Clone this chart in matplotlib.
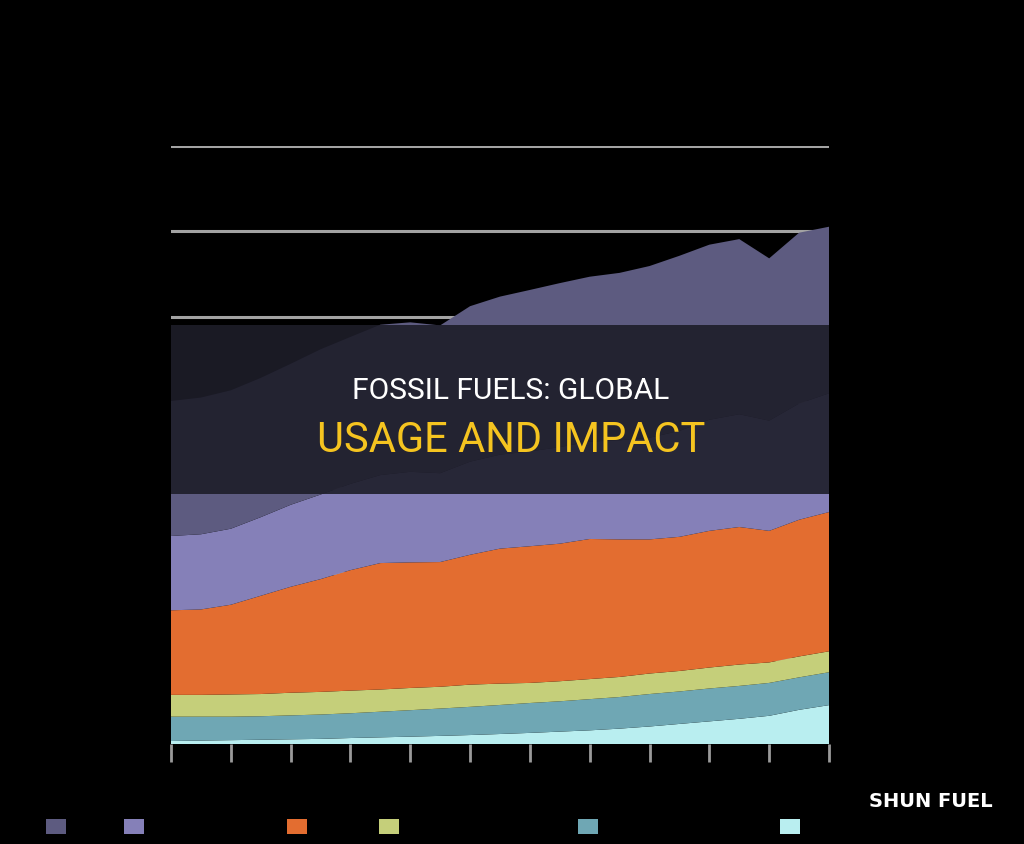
import numpy as np
import matplotlib
matplotlib.use("Agg")
import matplotlib.pyplot as plt
from matplotlib.patches import Patch, Rectangle

# %%
## data (exajoules per year)
years = list(range(2000, 2023))
renewables = [3.5, 4, 4.5, 5, 5.5, 6, 7, 7.8, 8.6, 9.5, 10.5, 11.7, 13, 14.5, 16, 18, 20.5, 23.5, 26.5, 29.5, 33, 40, 45.5]
hydro = [28.5, 28, 27.5, 27.5, 28, 28.5, 29, 30, 31, 32, 33, 34, 35, 35.5, 36.5, 37, 38, 38, 38.5, 38.5, 38.5, 38, 38.5]
nuclear = [25.5, 25.5, 26, 26, 26.5, 26.5, 26.5, 26, 26, 25.5, 26, 25, 23.5, 23.5, 23.5, 23.5, 24, 24, 24.5, 25, 24, 24.5, 24.5]
coal = [99, 100, 105, 115, 124, 132, 141, 148, 147, 146, 152, 158, 160, 161, 164, 161, 157, 157, 160, 161, 154, 160, 163]
gas = [87, 88, 89, 92, 96, 99, 101, 103, 106, 104, 109, 110, 111, 113, 114, 116, 119, 124, 130, 132, 129, 136, 139]
oil = [158, 160, 162, 163, 165, 170, 172, 176, 175, 173, 182, 185, 189, 192, 193, 196, 201, 205, 205, 205, 190, 200, 195]

series_names = ["Oil", "Natural gas", "Coal", "Nuclear energy", "Hydropower", "Other renewables"]
series_colors = ["#5d5b80", "#8580b8", "#e36d30", "#c5cf7a", "#6fa7b4", "#b9eef0"]
yticks = [0, 100, 200, 300, 400, 500, 600, 700]
xticks = list(range(2000, 2023, 2))

# %%
fig = plt.figure(figsize=(10.24, 8.45), dpi=100, facecolor="black")
ax = fig.add_axes([171 / 1024, 100 / 845, 658 / 1024, 598 / 845])
ax.set_facecolor("black")

# stack from the bottom up
ax.stackplot(
    years,
    renewables, hydro, nuclear, coal, gas, oil,
    colors=series_colors[::-1],
    linewidth=0,
    zorder=2,
)
ax.set(xlim=(2000, 2022), ylim=(0, 700))
ax.set_yticks(yticks)
ax.set_xticks(xticks)
ax.grid(axis="y", color="#a3a3a3", linewidth=2.2, zorder=0)
ax.set_axisbelow(True)
for s in ax.spines.values():
    s.set_visible(False)
ax.tick_params(axis="x", colors="#9a9a9a", length=13, width=2, labelcolor="black", labelsize=11, pad=6)
ax.tick_params(axis="y", length=0, labelcolor="black", labelsize=11, pad=28)
ax.text(-0.1, 1.07, "Exajoules", transform=ax.transAxes, color="black", fontsize=11)

# legend along the bottom, one entry per slot
legend_x = [46, 124, 287, 379, 578, 780]
for name, col, lx in zip(series_names, series_colors, legend_x):
    fig.legend(
        handles=[Patch(facecolor=col)],
        labels=[name],
        loc="center left",
        bbox_to_anchor=(lx / 1024, 1 - 828.5 / 845),
        frameon=False,
        borderpad=0,
        borderaxespad=0,
        handlelength=1.2,
        handleheight=1.0,
        handletextpad=0.5,
        fontsize=12,
        labelcolor="black",
    )

# title banner over the chart
ax.add_patch(
    Rectangle((0, 0.418), 1, 0.2826, transform=ax.transAxes,
              facecolor="#1d1d29", alpha=0.9, linewidth=0, zorder=5)
)
title_font = ["Roboto", "DejaVu Sans"]
fig.text(0.499, 0.537, "FOSSIL FUELS: GLOBAL", color="white", fontsize=21.5,
         ha="center", va="center", family=title_font, zorder=6)
fig.text(0.499, 0.479, "USAGE AND IMPACT", color="#f5c420", fontsize=30,
         ha="center", va="center", family=title_font, zorder=6)
fig.text(0.909, 0.0509, "SHUN FUEL", color="white", fontsize=14, fontweight="bold",
         ha="center", va="center", family="DejaVu Sans")

fig.savefig("out.png", dpi=100, facecolor="black")
